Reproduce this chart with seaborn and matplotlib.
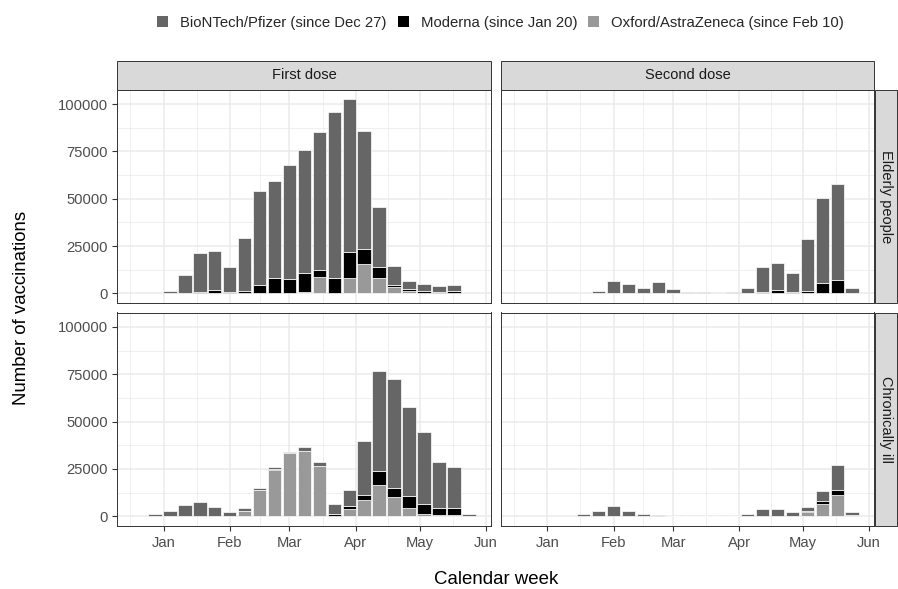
import numpy as np
import pandas as pd
import matplotlib
matplotlib.use("Agg")
import matplotlib.pyplot as plt
import matplotlib.dates as mdates
from matplotlib.patches import Rectangle, Patch
from matplotlib.ticker import FixedLocator
import seaborn as sns

# ---------------- data ----------------
weeks = pd.date_range("2020-12-28", periods=22, freq="7D")
vaccines = ["BioNTech/Pfizer", "Moderna", "Oxford/AstraZeneca"]
legend_labels = ["BioNTech/Pfizer (since Dec 27)", "Moderna (since Jan 20)",
                 "Oxford/AstraZeneca (since Feb 10)"]
doses = ["First dose", "Second dose"]
groups = ["Elderly people", "Chronically ill"]

elderly_first_biontech = [0, 1400, 9700, 20600, 20800, 13200, 28100, 50000, 51300, 60300, 64600,
                          72900, 87500, 80600, 62200, 31600, 9900, 4200, 3500, 3000, 3000, 0]
elderly_first_moderna = [0, 0, 0, 900, 1800, 900, 1200, 4200, 8100, 7400, 10200,
                         3500, 8300, 13600, 8100, 6000, 1200, 900, 1100, 900, 1400, 0]
elderly_first_astra = [0, 0, 0, 0, 0, 0, 0, 0, 0, 0, 700,
                       8800, 0, 8300, 15300, 7900, 3200, 1400, 300, 0, 0, 0]

chronic_first_biontech = [1200, 2800, 6100, 7400, 4900, 2300, 2000, 1200, 1000, 900, 2200,
                          2300, 5500, 8000, 28400, 52500, 57300, 47400, 38300, 24400, 21600, 1000]
chronic_first_moderna = [0, 0, 0, 0, 0, 0, 0, 0, 500, 0, 0,
                         0, 900, 1800, 2600, 7700, 4900, 6100, 4900, 3700, 3700, 0]
chronic_first_astra = [0, 0, 0, 0, 0, 0, 2600, 13700, 24600, 33300, 34500,
                       26500, 300, 3900, 8800, 16300, 10200, 4400, 1400, 500, 500, 0]

elderly_second_biontech = [0, 0, 0, 0, 1200, 6500, 4900, 2800, 5800, 2500, 600,
                           600, 0, 600, 2800, 13200, 14200, 9900, 27200, 45000, 50700, 2800]
elderly_second_moderna = [0, 0, 0, 0, 0, 0, 0, 0, 0, 0, 0,
                          0, 0, 0, 0, 700, 1800, 700, 1400, 5300, 7200, 0]
elderly_second_astra = [0] * 22

chronic_second_biontech = [0, 0, 0, 1200, 2600, 5600, 3000, 1400, 900, 400, 400,
                           400, 400, 400, 1000, 4000, 3900, 2100, 2200, 5600, 13200, 1500]
chronic_second_moderna = [0, 0, 0, 0, 0, 0, 0, 0, 0, 0, 0,
                          0, 0, 0, 0, 0, 0, 0, 400, 1600, 2800, 0]
chronic_second_astra = [0, 0, 0, 0, 0, 0, 0, 0, 0, 0, 0,
                        0, 0, 0, 0, 0, 0, 0, 2300, 6300, 11200, 800]

y_ticks = [0, 25000, 50000, 75000, 100000]

series = {
    ("Elderly people", "First dose"): [elderly_first_biontech, elderly_first_moderna, elderly_first_astra],
    ("Chronically ill", "First dose"): [chronic_first_biontech, chronic_first_moderna, chronic_first_astra],
    ("Elderly people", "Second dose"): [elderly_second_biontech, elderly_second_moderna, elderly_second_astra],
    ("Chronically ill", "Second dose"): [chronic_second_biontech, chronic_second_moderna, chronic_second_astra],
}
rows = []
for (grp, dose), lists in series.items():
    for vac, vals in zip(vaccines, lists):
        for wk, v in zip(weeks, vals):
            rows.append({"week": wk, "group": grp, "dose": dose, "vaccine": vac, "count": v})
df = pd.DataFrame(rows)

colors = {"BioNTech/Pfizer": "#666666", "Moderna": "#000000", "Oxford/AstraZeneca": "#999999"}
stack_order = ["Oxford/AstraZeneca", "Moderna", "BioNTech/Pfizer"]

# ---------------- style ----------------
sns.set_theme(style="white")
plt.rcParams["font.family"] = ["Liberation Sans", "DejaVu Sans"]

W, H = 898, 589


def stacked_bars(data, **kws):
    ax = plt.gca()
    piv = data.pivot_table(index="week", columns="vaccine", values="count", aggfunc="sum")
    piv = piv.reindex(columns=stack_order).fillna(0)
    bottom = np.zeros(len(piv))
    for vac in stack_order:
        vals = piv[vac].to_numpy(dtype=float)
        mask = vals > 0
        ax.bar(piv.index[mask], vals[mask], bottom=bottom[mask], width=6.3,
               color=colors[vac], edgecolor="white", linewidth=0.5, zorder=2)
        bottom = bottom + vals


g = sns.FacetGrid(df, row="group", col="dose", row_order=groups, col_order=doses,
                  sharex=True, sharey=True, height=2.5, aspect=1.7, despine=False)
g.map_dataframe(stacked_bars)
g.set_titles("")
g.set_axis_labels("", "")
fig = g.figure
fig.set_size_inches(W / 100, H / 100)
fig.set_dpi(100)

# panel pixel boxes (left, top, right, bottom)
col_x = [(117, 491), (501, 874.3)]
row_y = [(89.6, 303.1), (312.5, 526.0)]

jan1 = mdates.date2num(pd.Timestamp("2021-01-01"))
xlim = (jan1 - 21.8, jan1 + 153.4)
month_starts = mdates.date2num(pd.date_range("2020-12-01", "2021-07-01", freq="MS"))
minor_x = (month_starts[:-1] + month_starts[1:]) / 2

for i in range(2):
    for j in range(2):
        ax = g.axes[i, j]
        x0, x1 = col_x[j]
        y0, y1 = row_y[i]
        ax.set_position([x0 / W, 1 - y1 / H, (x1 - x0) / W, (y1 - y0) / H])
        ax.set_facecolor("white")
        ax.set_xlim(*xlim)
        ax.set_ylim(-5125, 107625)
        ax.xaxis.set_major_locator(mdates.MonthLocator())
        ax.xaxis.set_major_formatter(mdates.DateFormatter("%b"))
        ax.xaxis.set_minor_locator(FixedLocator(minor_x))
        ax.yaxis.set_major_locator(FixedLocator(y_ticks))
        ax.yaxis.set_minor_locator(FixedLocator([12500, 37500, 62500, 87500]))
        ax.yaxis.set_major_formatter(matplotlib.ticker.FuncFormatter(lambda v, p: f"{int(v)}"))
        ax.grid(True, which="major", color="#EBEBEB", linewidth=1.1)
        ax.grid(True, which="minor", color="#EBEBEB", linewidth=0.55)
        ax.set_axisbelow(True)
        for s in ax.spines.values():
            s.set_color("#333333")
            s.set_linewidth(0.7)
            s.set_visible(True)
        ax.tick_params(which="major", direction="out", length=3.6, width=0.8, color="#333333",
                       labelsize=10.6, labelcolor="#4D4D4D", pad=2.8)
        ax.tick_params(which="minor", length=0)
        ax.tick_params(axis="x", bottom=(i == 1), labelbottom=(i == 1), pad=3.5)
        ax.tick_params(axis="y", left=(j == 0), labelleft=(j == 0))
        ax.set_xlabel("")
        ax.set_ylabel("")
        # top strips
        if i == 0:
            sh = (89.6 - 61) / (y1 - y0)
            ax.add_patch(Rectangle((0, 1), 1, sh, transform=ax.transAxes, clip_on=False,
                                   facecolor="#D9D9D9", edgecolor="#333333", linewidth=0.7, zorder=5))
            ax.text(0.5, 1 + sh / 2, doses[j], transform=ax.transAxes, ha="center", va="center",
                    fontsize=10.5, color="#1A1A1A", zorder=6)
        # right strips
        if j == 1:
            wpx = x1 - x0
            sx0 = 1 + 0.8 / wpx
            sw = (897 - 875) / wpx
            ax.add_patch(Rectangle((sx0, 0), sw, 1, transform=ax.transAxes, clip_on=False,
                                   facecolor="#D9D9D9", edgecolor="#333333", linewidth=0.7, zorder=5))
            ax.text(sx0 + sw / 2, 0.5, groups[i], transform=ax.transAxes, ha="center", va="center",
                    rotation=-90, fontsize=10.5, color="#1A1A1A", zorder=6)

# axis titles
fig.text((117 + 874.3) / 2 / W, 1 - 580 / H, "Calendar week", ha="center", va="center",
         fontsize=13.4, color="black")
fig.text(22 / W, 1 - ((89.6 + 526) / 2) / H, "Number of vaccinations", ha="center", va="center",
         rotation=90, fontsize=13.4, color="black")

# legend
handles = [Patch(facecolor=colors[v], edgecolor="none") for v in vaccines]
fig.legend(handles, legend_labels, loc="center", bbox_to_anchor=(500.5 / W, 1 - 22.7 / H),
           ncol=3, frameon=False, fontsize=10.7, handlelength=0.75, handleheight=0.75,
           handletextpad=0.8, columnspacing=0.75, borderaxespad=0, borderpad=0)

fig.savefig("out.png", dpi=100)
